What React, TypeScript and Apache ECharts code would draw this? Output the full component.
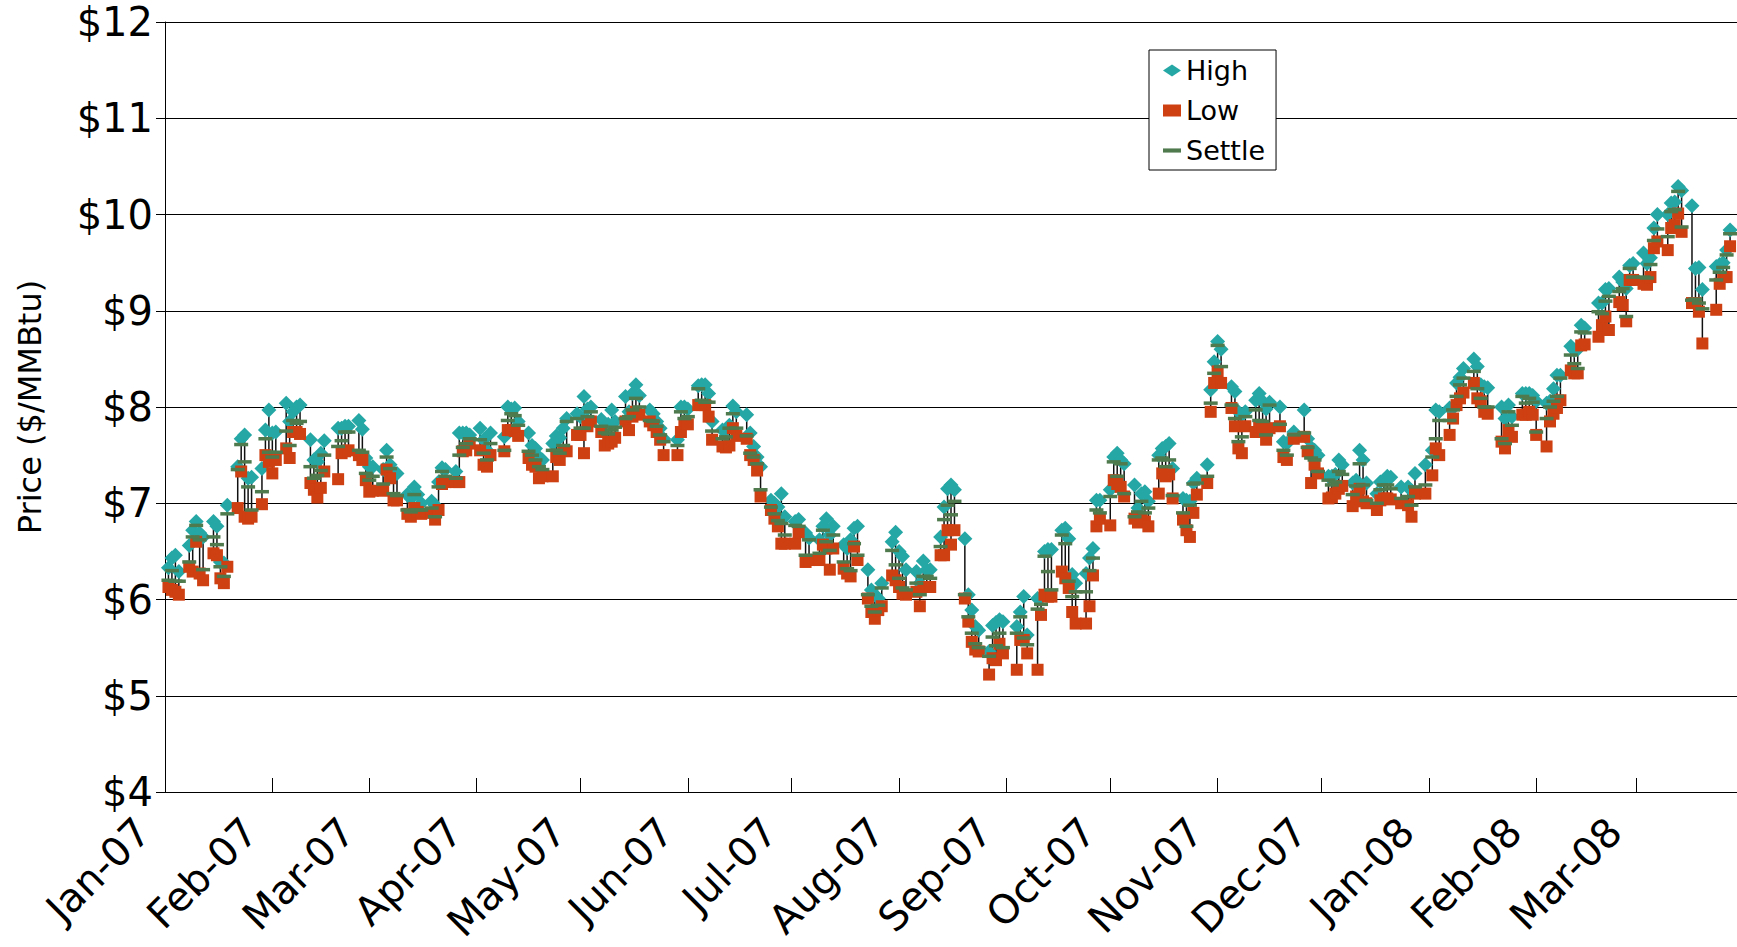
import React, { useEffect, useRef } from "react";
import * as echarts from "echarts";

// Weekly blocks, Monday..Friday (null = exchange holiday). First Monday = 1 Jan 2007.
const firstMonday = "2007-01-01";

const highs: (number | null)[][] = [
  [null, 6.33, 6.43, 6.46, 6.29],
  [6.56, 6.72, 6.81, 6.69, 6.65],
  [6.81, 6.76, 6.39, 6.38, 6.98],
  [7.38, 7.67, 7.71, 7.26, 7.27],
  [7.36, 7.76, 7.97, 7.73, 7.74],
  [8.04, 7.85, 7.95, 8.0, 8.02],
  [7.66, 7.45, 7.43, 7.52, 7.65],
  [null, 7.78, 7.78, 7.8, 7.8],
  [7.86, 7.77, 7.47, 7.38, 7.38],
  [7.35, 7.55, 7.4, 7.29, 7.31],
  [7.09, 7.05, 7.17, 7.09, 7.0],
  [7.02, 6.98, 7.22, 7.37, 7.35],
  [7.33, 7.73, 7.73, 7.73, 7.71],
  [7.78, 7.66, 7.55, 7.73, null],
  [7.69, 8.0, 7.98, 7.99, 7.85],
  [7.73, 7.6, 7.57, 7.48, 7.45],
  [7.62, 7.7, 7.68, 7.78, 7.88],
  [7.93, 7.9, 8.11, 7.98, 8.0],
  [7.87, 7.8, 7.82, 7.97, 7.85],
  [8.11, 7.95, 8.14, 8.23, 8.12],
  [7.97, 7.93, 7.85, 7.78, 7.67],
  [null, 7.66, 8.0, 8.0, 7.98],
  [8.22, 8.23, 8.23, 8.14, 7.85],
  [7.76, 7.76, 7.81, 8.01, 7.95],
  [7.92, 7.73, 7.59, 7.48, 7.38],
  [7.03, 7.0, 6.96, 7.1, 6.86],
  [6.81, 6.83, null, 6.69, 6.64],
  [6.62, 6.76, 6.84, 6.67, 6.76],
  [6.57, 6.53, 6.62, 6.74, 6.76],
  [6.31, 6.1, 6.05, 6.01, 6.17],
  [6.6, 6.7, 6.5, 6.45, 6.31],
  [6.29, 6.17, 6.4, 6.31, 6.31],
  [6.65, 6.96, 7.15, 7.19, 7.14],
  [6.63, 6.05, 5.89, 5.72, 5.68],
  [5.46, 5.73, 5.76, 5.79, 5.77],
  [null, 5.72, 5.87, 6.03, 5.63],
  [6.01, 6.02, 6.5, 6.52, 6.52],
  [6.72, 6.74, 6.63, 6.26, 6.17],
  [6.27, 6.43, 6.53, 7.03, 7.03],
  [7.14, 7.48, 7.52, 7.45, 7.41],
  [7.19, 6.95, 7.1, 7.12, 7.02],
  [7.5, 7.57, 7.59, 7.62, 7.36],
  [7.05, 7.03, 7.02, 7.21, 7.26],
  [7.4, 8.18, 8.47, 8.68, 8.6],
  [8.21, 8.16, 7.95, 7.92, 7.95],
  [8.07, 8.14, 8.06, 7.98, 8.05],
  [8.0, 7.64, 7.62, null, 7.74],
  [7.97, 7.67, 7.58, 7.55, 7.5],
  [7.28, 7.28, 7.3, 7.45, 7.4],
  [7.21, 7.24, 7.55, 7.45, 7.21],
  [7.1, 7.22, 7.24, 7.28, 7.27],
  [7.17, null, 7.17, 7.13, 7.31],
  [7.4, null, 7.55, 7.97, 7.95],
  [7.99, 7.99, 8.25, 8.31, 8.4],
  [8.5, 8.42, 8.23, 8.21, 8.2],
  [null, 8.0, 7.88, 8.02, 7.9],
  [8.14, 8.14, 8.14, 8.12, 8.06],
  [8.04, 8.06, 8.19, 8.33, 8.33],
  [8.63, 8.59, 8.6, 8.85, 8.82],
  [null, 9.08, 9.08, 9.22, 9.23],
  [9.35, 9.3, 9.23, 9.47, 9.49],
  [9.6, 9.49, 9.55, 9.86, 10.0],
  [10.0, 10.12, 10.13, 10.29, 10.25],
  [10.09, 9.44, 9.45, 9.22, null],
  [9.46, 9.48, 9.5, 9.63, 9.84],
];

const lows: (number | null)[][] = [
  [null, 6.13, 6.1, 6.08, 6.05],
  [6.34, 6.29, 6.6, 6.27, 6.2],
  [6.48, 6.46, 6.22, 6.17, 6.34],
  [6.95, 7.33, 6.86, 6.84, 6.86],
  [6.99, 7.5, 7.43, 7.31, 7.45],
  [7.57, 7.47, 7.74, 7.74, 7.72],
  [7.21, 7.14, 7.06, 7.16, 7.33],
  [null, 7.25, 7.52, 7.54, 7.55],
  [7.5, 7.45, 7.24, 7.12, 7.13],
  [7.13, 7.35, 7.26, 7.03, 7.03],
  [6.89, 6.86, 6.95, 6.91, 6.89],
  [6.9, 6.83, 6.93, 7.2, 7.22],
  [7.22, 7.22, 7.54, 7.55, 7.62],
  [7.55, 7.4, 7.38, 7.5, null],
  [7.54, 7.76, 7.76, 7.75, 7.7],
  [7.47, 7.4, 7.38, 7.26, 7.28],
  [7.28, 7.48, 7.45, 7.55, 7.54],
  [7.71, 7.71, 7.52, 7.8, 7.85],
  [7.74, 7.6, 7.62, 7.64, 7.68],
  [7.85, 7.76, 7.9, 7.95, 7.92],
  [7.85, 7.81, 7.74, 7.66, 7.5],
  [null, 7.5, 7.74, 7.83, 7.82],
  [8.02, 8.02, 8.02, 7.9, 7.66],
  [7.59, 7.58, 7.6, 7.78, 7.7],
  [7.67, 7.5, 7.45, 7.34, 7.07],
  [6.93, 6.84, 6.76, 6.58, 6.58],
  [6.58, 6.7, null, 6.39, 6.41],
  [6.41, 6.57, 6.53, 6.31, 6.53],
  [6.32, 6.27, 6.24, 6.55, 6.41],
  [6.01, 5.87, 5.8, 5.89, 5.93],
  [6.25, 6.2, 6.13, 6.06, 6.05],
  [6.08, 5.93, 6.13, 6.13, 6.13],
  [6.46, 6.46, 6.72, 6.57, 6.72],
  [6.01, 5.77, 5.56, 5.48, 5.46],
  [5.22, 5.39, 5.37, 5.54, 5.44],
  [null, 5.27, 5.58, 5.58, 5.44],
  [5.27, 5.84, 6.05, 6.03, 6.03],
  [6.29, 6.22, 6.12, 5.87, 5.75],
  [5.75, 5.93, 6.25, 6.76, 6.84],
  [6.77, 7.24, 7.2, 7.17, 7.07],
  [6.84, 6.8, 6.84, 6.81, 6.76],
  [7.1, 7.31, 7.28, 7.3, 7.05],
  [6.83, 6.72, 6.65, 6.9, 7.09],
  [7.21, 7.95, 8.25, 8.37, 8.25],
  [7.99, 7.8, 7.57, 7.52, 7.8],
  [7.74, 7.8, 7.78, 7.66, 7.78],
  [7.8, 7.48, 7.45, null, 7.67],
  [7.69, 7.54, 7.21, 7.4, 7.31],
  [7.05, 7.06, 7.1, 7.15, 7.18],
  [6.97, 7.07, 7.15, 7.02, 7.0],
  [6.93, 7.03, 7.05, 7.05, 7.04],
  [7.0, null, 6.98, 6.86, 7.1],
  [7.1, null, 7.29, 7.57, 7.5],
  [7.71, 7.88, 8.02, 8.09, 8.15],
  [8.25, 8.09, 8.06, 7.95, 7.93],
  [null, 7.64, 7.57, 7.76, 7.69],
  [7.92, 7.92, 7.95, 7.92, 7.71],
  [7.59, 7.85, 7.93, 7.99, 8.07],
  [8.38, 8.35, 8.35, 8.64, 8.65],
  [null, 8.73, 8.85, 8.94, 8.8],
  [9.09, 9.06, 8.89, 9.32, 9.32],
  [9.28, 9.27, 9.35, 9.65, 9.72],
  [9.63, 9.86, 9.89, 10.01, 9.82],
  [9.08, 9.08, 8.99, 8.66, null],
  [9.01, 9.28, 9.35, 9.35, 9.67],
];

const settles: (number | null)[][] = [
  [null, 6.2, 6.3, 6.19, 6.19],
  [6.39, 6.65, 6.77, 6.62, 6.31],
  [6.65, 6.57, 6.34, 6.24, 6.89],
  [7.35, 7.61, 7.43, 7.17, 6.93],
  [7.12, 7.67, 7.53, 7.48, 7.53],
  [7.75, 7.6, 7.86, 7.83, 7.85],
  [7.38, 7.26, 7.29, 7.34, 7.5],
  [null, 7.59, 7.65, 7.74, 7.74],
  [7.55, 7.53, 7.31, 7.24, 7.28],
  [7.2, 7.48, 7.36, 7.1, 7.08],
  [6.93, 6.91, 7.09, 6.93, 6.93],
  [6.95, 6.86, 7.17, 7.33, 7.28],
  [7.26, 7.5, 7.58, 7.62, 7.67],
  [7.66, 7.52, 7.45, 7.62, null],
  [7.55, 7.86, 7.93, 7.91, 7.81],
  [7.54, 7.5, 7.45, 7.38, 7.35],
  [7.55, 7.55, 7.52, 7.6, 7.85],
  [7.88, 7.78, 7.78, 7.9, 7.95],
  [7.8, 7.73, 7.72, 7.76, 7.79],
  [7.88, 7.9, 7.97, 8.09, 8.0],
  [7.86, 7.85, 7.8, 7.71, 7.64],
  [null, 7.6, 7.95, 7.88, 7.9],
  [8.19, 8.07, 8.05, 8.05, 7.75],
  [7.67, 7.69, 7.78, 7.93, 7.78],
  [7.7, 7.52, 7.48, 7.41, 7.14],
  [6.96, 6.89, 6.82, 6.79, 6.67],
  [6.77, 6.76, null, 6.46, 6.62],
  [6.48, 6.72, 6.6, 6.51, 6.67],
  [6.39, 6.32, 6.3, 6.58, 6.46],
  [6.05, 5.93, 5.87, 5.94, 6.12],
  [6.51, 6.36, 6.22, 6.12, 6.1],
  [6.17, 6.05, 6.24, 6.24, 6.22],
  [6.55, 6.83, 6.98, 6.88, 7.02],
  [6.05, 5.82, 5.65, 5.54, 5.5],
  [5.41, 5.61, 5.52, 5.65, 5.5],
  [null, 5.65, 5.82, 5.6, 5.53],
  [5.9, 5.95, 6.45, 6.29, 6.1],
  [6.67, 6.58, 6.19, 6.03, 6.08],
  [6.08, 6.3, 6.43, 6.93, 6.9],
  [7.07, 7.43, 7.28, 7.41, 7.1],
  [6.86, 6.91, 7.02, 6.9, 6.95],
  [7.45, 7.47, 7.38, 7.45, 7.08],
  [6.9, 6.76, 6.98, 7.2, 7.21],
  [7.28, 8.04, 8.35, 8.64, 8.42],
  [8.02, 7.88, 7.64, 7.69, 7.9],
  [7.97, 7.86, 7.85, 7.71, 8.02],
  [7.82, 7.55, 7.5, null, 7.71],
  [7.73, 7.58, 7.47, 7.45, 7.33],
  [7.24, 7.19, 7.22, 7.33, 7.3],
  [7.09, 7.18, 7.41, 7.19, 7.03],
  [7.0, 7.14, 7.19, 7.19, 7.15],
  [7.05, null, 7.07, 6.98, 7.17],
  [7.19, null, 7.48, 7.67, 7.86],
  [7.86, 7.97, 8.11, 8.23, 8.3],
  [8.37, 8.19, 8.09, 8.0, 8.0],
  [null, 7.67, 7.62, 7.95, 7.81],
  [8.11, 8.04, 8.09, 8.05, 7.74],
  [7.88, 8.0, 8.06, 8.11, 8.3],
  [8.54, 8.45, 8.4, 8.78, 8.77],
  [null, 8.99, 8.97, 9.1, 9.15],
  [9.2, 9.23, 8.94, 9.44, 9.35],
  [9.35, 9.34, 9.48, 9.73, 9.85],
  [9.77, 10.03, 10.05, 10.24, 9.87],
  [9.11, 9.12, 9.08, 9.02, null],
  [9.32, 9.4, 9.45, 9.58, 9.8],
];

const monthLabels = [
  "Jan-07", "Feb-07", "Mar-07", "Apr-07", "May-07", "Jun-07", "Jul-07",
  "Aug-07", "Sep-07", "Oct-07", "Nov-07", "Dec-07", "Jan-08", "Feb-08", "Mar-08",
];
const yTickLabels = ["$4", "$5", "$6", "$7", "$8", "$9", "$10", "$11", "$12"];

const DAY = 86400000;
const origin = Date.parse(firstMonday + "T00:00:00Z");
const monthStarts = monthLabels.map((_, i) => Math.round((Date.UTC(2007, i, 1) - origin) / DAY));

const FONT = "'DejaVu Sans', 'Liberation Sans', Arial, sans-serif";

export default function App() {
  const ref = useRef<HTMLDivElement>(null);
  useEffect(() => {
    if (!ref.current) return;
    const chart = echarts.init(ref.current, undefined, { renderer: "svg" });

    const highPts: number[][] = [];
    const lowPts: number[][] = [];
    const settlePts: number[][] = [];
    const hiloPts: number[][] = [];
    highs.forEach((wk, w) => {
      wk.forEach((h, k) => {
        const l = lows[w][k];
        const s = settles[w][k];
        if (h == null || l == null || s == null) return;
        const d = w * 7 + k;
        highPts.push([d, h]);
        lowPts.push([d, l]);
        settlePts.push([d, s]);
        hiloPts.push([d, l, h]);
      });
    });

    const labelMap: Record<number, string> = {};
    monthStarts.forEach((d, i) => (labelMap[d] = monthLabels[i]));

    chart.setOption({
      animation: false,
      backgroundColor: "#ffffff",
      textStyle: { fontFamily: FONT },
      grid: {
        left: 165,
        right: 0,
        top: 22,
        bottom: 155,
        containLabel: false,
        outerBoundsMode: "none",
      },
      legend: {
        orient: "vertical",
        left: 1149,
        top: 50,
        backgroundColor: "#ffffff",
        borderColor: "#000000",
        borderWidth: 1,
        borderRadius: 0,
        padding: [7, 11, 6, 14],
        itemGap: 13,
        itemWidth: 18,
        itemHeight: 12,
        textStyle: { fontSize: 27, color: "#000", fontFamily: FONT },
        data: [
          { name: "High", icon: "diamond" },
          { name: "Low", icon: "rect" },
          { name: "Settle", icon: "path://M0,0H13V3H0Z" },
        ],
      },
      xAxis: {
        type: "value",
        min: 0,
        max: 454,
        splitLine: { show: false },
        axisLine: { show: true, onZero: false, lineStyle: { color: "#000", width: 1 } },
        axisTick: {
          show: true,
          inside: true,
          length: 14,
          customValues: monthStarts,
          lineStyle: { color: "#000", width: 1 },
        },
        axisLabel: {
          show: true,
          customValues: monthStarts,
          rotate: 45,
          margin: 11,
          padding: [0, 31, 0, 0],
          fontSize: 40,
          color: "#000",
          fontFamily: FONT,
          formatter: (v: number) => labelMap[Math.round(v)] ?? "",
        },
      },
      yAxis: {
        type: "value",
        min: 4,
        max: 12,
        interval: 1,
        name: "Price ($/MMBtu)",
        nameLocation: "middle",
        nameRotate: 90,
        nameGap: 119,
        nameTextStyle: { fontSize: 32, color: "#000", fontFamily: FONT },
        axisLine: { show: true, lineStyle: { color: "#000", width: 1 } },
        axisTick: { show: true, inside: false, length: 9, lineStyle: { color: "#000" } },
        splitLine: { show: true, lineStyle: { color: "#000", width: 1 } },
        axisLabel: {
          fontSize: 40,
          lineHeight: 40,
          padding: [12, 0, 0, 0],
          color: "#000",
          margin: 12,
          fontFamily: FONT,
          formatter: (v: number) => yTickLabels[Math.round(v) - 4] ?? "",
        },
      },
      series: [
        {
          name: "HiLo",
          type: "custom",
          data: hiloPts,
          encode: { x: 0, y: [1, 2] },
          silent: true,
          z: 1,
          renderItem: (params: any, api: any) => {
            const x = api.value(0);
            const lo = api.coord([x, api.value(1)]);
            const hi = api.coord([x, api.value(2)]);
            return {
              type: "line",
              shape: { x1: lo[0], y1: lo[1], x2: hi[0], y2: hi[1] },
              style: { stroke: "#111111", lineWidth: 1.5 },
            };
          },
        },
        {
          name: "High",
          type: "scatter",
          data: highPts,
          symbol: "diamond",
          symbolSize: [15, 15],
          itemStyle: { color: "#25A8A5", opacity: 1 },
          z: 2,
        },
        {
          name: "Low",
          type: "scatter",
          data: lowPts,
          symbol: "rect",
          symbolSize: [12, 12],
          itemStyle: { color: "#CE3F12", opacity: 1 },
          z: 3,
        },
        {
          name: "Settle",
          type: "scatter",
          data: settlePts,
          symbol: "rect",
          symbolSize: [14, 3.5],
          itemStyle: { color: "#4E7A4E", opacity: 1 },
          z: 4,
        },
      ],
    });
    return () => chart.dispose();
  }, []);

  return (
    <div
      ref={ref}
      style={{ position: "absolute", left: 0, top: 0, width: 1737, height: 947, background: "#fff" }}
    />
  );
}
